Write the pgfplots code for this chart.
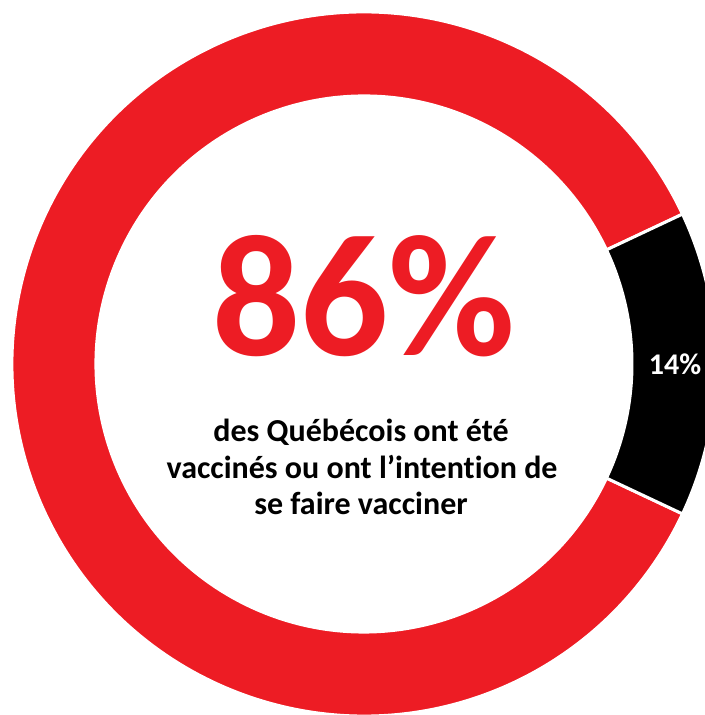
\documentclass[border=0pt]{standalone}
\usepackage{pgfplots}
\pgfplotsset{compat=1.18}
\usepackage{pgfplotstable}
\usepackage{fontspec}
\setmainfont{Carlito}[Ligatures=NoCommon]
\definecolor{qred}{HTML}{ED1C24}

\pgfplotstableread{
label value
Oui 86
Non 14
}\datatable
\pgfplotstablegetelem{0}{value}\of\datatable \let\va\pgfplotsretval
\pgfplotstablegetelem{1}{value}\of\datatable \let\vb\pgfplotsretval
\pgfmathsetmacro{\aStart}{-1.8*\vb}
\pgfmathsetmacro{\aMid}{1.8*\vb}
\pgfmathsetmacro{\aEnd}{\aMid+3.6*\va}
\def\Ro{352}
\def\Ri{268}

\begin{document}
\begin{tikzpicture}
\begin{axis}[x=1bp,y=1bp,xmin=-364,xmax=341,ymin=-351,ymax=364,hide axis,clip=true]
% red segment (86%)
\fill[qred,draw=white,line width=3bp]
  (axis cs:{\Ro*cos(\aMid)},{\Ro*sin(\aMid)}) arc[start angle=\aMid,end angle=\aEnd,radius=\Ro bp]
  -- (axis cs:{\Ri*cos(\aEnd)},{\Ri*sin(\aEnd)}) arc[start angle=\aEnd,end angle=\aMid,radius=\Ri bp] -- cycle;
% black segment (14%)
\fill[black,draw=white,line width=3bp]
  (axis cs:{\Ro*cos(\aStart)},{\Ro*sin(\aStart)}) arc[start angle=\aStart,end angle=\aMid,radius=\Ro bp]
  -- (axis cs:{\Ri*cos(\aMid)},{\Ri*sin(\aMid)}) arc[start angle=\aMid,end angle=\aStart,radius=\Ri bp] -- cycle;
\node[text=white,font=\fontsize{30bp}{36bp}\selectfont\bfseries] at (axis cs:311,0) {\pgfmathprintnumber[assume math mode=true]{\vb}\%};
\node[text=qred,font=\fontsize{174bp}{174bp}\selectfont\bfseries,anchor=base] at (axis cs:0,8) {\pgfmathprintnumber[assume math mode=true]{\va}\%};
\node[font=\fontsize{32bp}{37bp}\selectfont\bfseries,anchor=base] at (axis cs:-3,-78) {des Québécois ont été};
\node[font=\fontsize{32bp}{37bp}\selectfont\bfseries,anchor=base] at (axis cs:-2,-114.5) {vaccinés ou ont l’intention de};
\node[font=\fontsize{32bp}{37bp}\selectfont\bfseries,anchor=base] at (axis cs:-3,-151) {se faire vacciner};
\coordinate (SW) at (axis cs:-364,-351);
\coordinate (NE) at (axis cs:341,364);
\end{axis}
\pgfresetboundingbox
\path[use as bounding box] (SW) rectangle (NE);
\end{tikzpicture}
\end{document}
